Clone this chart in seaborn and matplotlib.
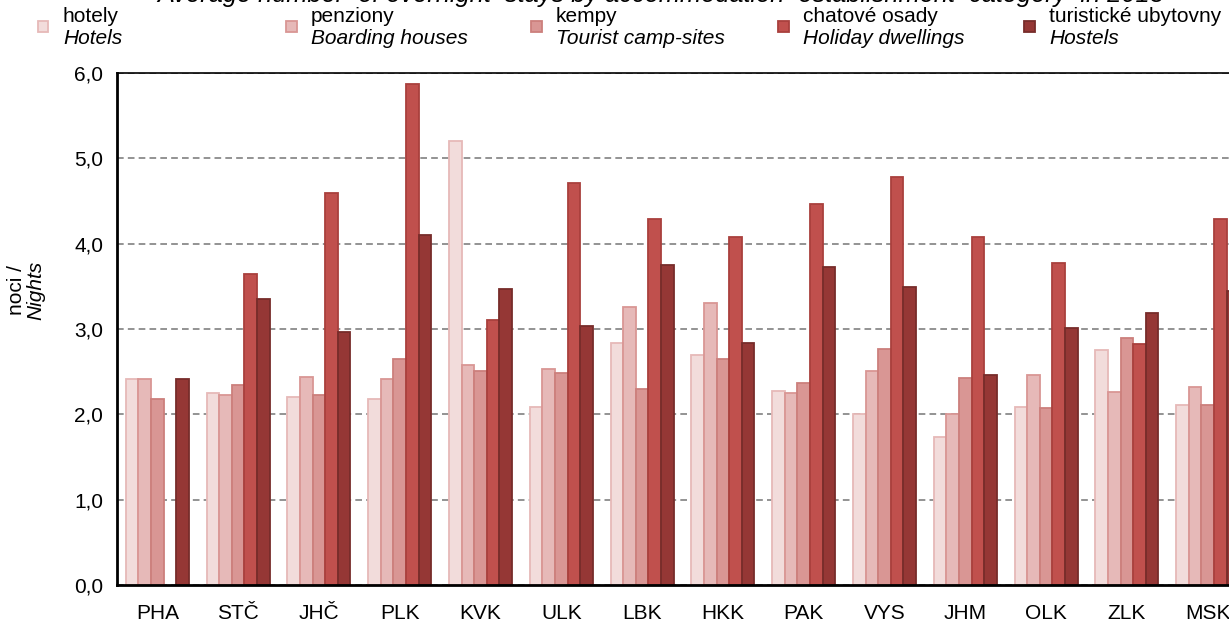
import matplotlib
matplotlib.use("Agg")
import matplotlib.pyplot as plt
from matplotlib.patches import Rectangle
import numpy as np
import pandas as pd
import seaborn as sns

# kraje
regions = ["PHA", "STČ", "JHČ", "PLK", "KVK", "ULK", "LBK",
           "HKK", "PAK", "VYS", "JHM", "OLK", "ZLK", "MSK"]

# prumerny pocet noci podle kategorie
hotely = [2.41, 2.25, 2.20, 2.18, 5.20, 2.09, 2.84, 2.70, 2.27, 2.00, 1.74, 2.09, 2.75, 2.11]
penziony = [2.41, 2.23, 2.44, 2.41, 2.58, 2.53, 3.26, 3.31, 2.25, 2.51, 2.00, 2.46, 2.26, 2.32]
kempy = [2.18, 2.34, 2.23, 2.65, 2.51, 2.48, 2.30, 2.65, 2.37, 2.77, 2.42, 2.07, 2.89, 2.11]
chatove_osady = [np.nan, 3.65, 4.59, 5.87, 3.10, 4.71, 4.29, 4.08, 4.47, 4.78, 4.08, 3.77, 2.82, 4.29]
ubytovny = [2.41, 3.35, 2.97, 4.10, 3.47, 3.03, 3.75, 2.84, 3.73, 3.49, 2.46, 3.01, 3.19, 3.45]

cz_labels = ["hotely", "penziony", "kempy", "chatové osady", "turistické ubytovny"]
en_labels = ["Hotels", "Boarding houses", "Tourist camp-sites", "Holiday dwellings", "Hostels"]

fills = ["#F2DCDB", "#E6B9B8", "#D99694", "#C0504D", "#953735"]
edges = ["#E6B9B8", "#D99694", "#CC7F7C", "#A9403D", "#772C2A"]

series = [hotely, penziony, kempy, chatove_osady, ubytovny]
rows = []
for cat, vals in zip(cz_labels, series):
    for reg, v in zip(regions, vals):
        rows.append({"kraj": reg, "kategorie": cat, "noci": v})
df = pd.DataFrame(rows)

sns.set_theme(style="white")
plt.rcParams["font.family"] = ["Liberation Sans", "DejaVu Sans"]
plt.rcParams["text.color"] = "black"
plt.rcParams["xtick.color"] = "black"
plt.rcParams["ytick.color"] = "black"

FS = 15

W, H = 1229, 622
fig = plt.figure(figsize=(W / 100, H / 100), dpi=100)
ax = fig.add_axes([117 / W, 1 - 585 / H, 1131 / W, 512 / H])

sns.barplot(data=df, x="kraj", y="noci", hue="kategorie", order=regions,
            hue_order=cz_labels, palette=fills, width=0.78, ax=ax,
            legend=False, errorbar=None, saturation=1)

for cont, ec in zip(ax.containers, edges):
    for bar in cont:
        bar.set_edgecolor(ec)
        bar.set_linewidth(1.3)

ax.set_ylim(0, 6)
ax.set_xlim(-0.5, len(regions) - 0.5)
ax.set_yticks(np.arange(0, 6.01, 1.0))
ax.set_yticklabels([f"{v:.1f}".replace(".", ",") for v in np.arange(0, 6.01, 1.0)],
                   fontsize=FS)
ax.yaxis.grid(True, linestyle=(0, (4, 2.5)), color="#808080", linewidth=1.2)
ax.set_axisbelow(True)

# tick marks na hranicich skupin
ax.set_xticks(np.arange(-0.5, len(regions), 1.0))
ax.set_xticklabels([])
ax.set_xticks(np.arange(len(regions)), minor=True)
ax.set_xticklabels(regions, minor=True, fontsize=FS)
ax.tick_params(axis="x", which="major", direction="out", length=6, width=1.5, color="black")
ax.tick_params(axis="x", which="minor", length=0, pad=14)
ax.tick_params(axis="y", direction="out", length=6, width=1.5, color="black", pad=4)
ax.set_xlabel("")
ax.set_ylabel("")

for side in ["left", "bottom", "top"]:
    ax.spines[side].set_visible(True)
    ax.spines[side].set_color("black")
ax.spines["left"].set_linewidth(2)
ax.spines["bottom"].set_linewidth(2)
ax.spines["top"].set_linewidth(1.2)
ax.spines["right"].set_visible(False)

# osa y popisek
fig.text(16 / W, 1 - 290 / H, "noci /", rotation=90, ha="center", va="center", fontsize=FS)
fig.text(36 / W, 1 - 290 / H, "Nights", rotation=90, ha="center", va="center",
         fontsize=FS, style="italic")

# titulek (orezany jako v predloze)
fig.text(661 / W, 1 - 2 / H,
         "Average number  of overnight  stays by accommodation  establishment  category  in 2013",
         ha="center", va="baseline", fontsize=18.3, style="italic")

# legenda
marker_x = [43, 291, 536, 783, 1029]
for mx, fc, ec, cz, en in zip(marker_x, fills, edges, cz_labels, en_labels):
    fig.add_artist(Rectangle(((mx - 5.5) / W, 1 - 32 / H), 11 / W, 11 / H,
                             transform=fig.transFigure, facecolor=fc,
                             edgecolor=ec, linewidth=1.3))
    fig.text((mx + 20) / W, 1 - 17 / H, cz, ha="left", va="center", fontsize=FS)
    fig.text((mx + 20) / W, 1 - 38 / H, en, ha="left", va="center", fontsize=FS,
             style="italic")

fig.savefig("out.png", dpi=100)
